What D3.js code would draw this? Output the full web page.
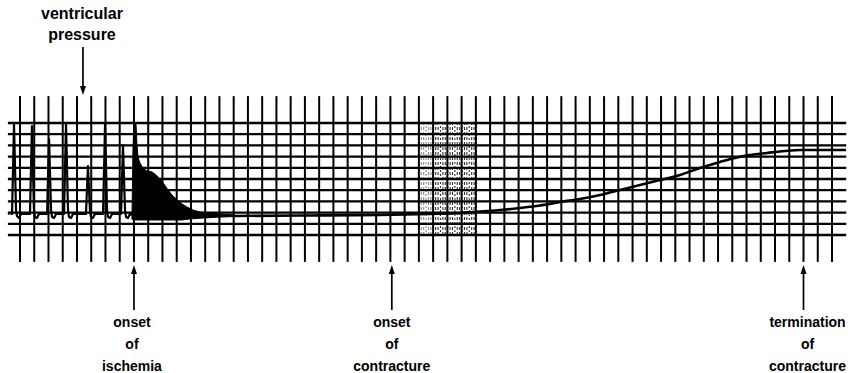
<!DOCTYPE html>
<html>
<head>
<meta charset="utf-8">
<script src="https://cdn.jsdelivr.net/npm/d3@7"></script>
<style>
  body { margin: 0; background: #fff; }
  text { font-family: "Liberation Sans", Arial, Helvetica, sans-serif; font-weight: bold; font-size: 14px; fill: #000; }
</style>
</head>
<body>
<div id="chart"></div>
<script>
// time in chart-paper divisions, pressure in divisions above the lowest grid line
var preT = [-0.84, -0.70, -0.56, -0.42, -0.28, -0.21, -0.07, 0.07, 0.49,
    0.70, 0.84, 0.98, 1.05, 1.19, 1.33, 1.75,
    1.90, 2.04, 2.18, 2.25, 2.39, 2.53, 3.02,
    3.09, 3.23, 3.37, 3.44, 3.58, 3.72, 4.49,
    4.63, 4.77, 4.91, 4.98, 5.12, 5.26, 5.69,
    5.83, 5.97, 6.11, 6.18, 6.32, 6.46, 6.95,
    7.09, 7.23, 7.37, 7.44, 7.58, 7.72, 7.86];
var preV = [1.88, 1.96, 1.88, 9.91, 2.23, 1.70, 1.52, 1.88, 1.88,
    1.88, 9.73, 2.23, 1.61, 1.52, 1.88, 1.88,
    1.88, 8.57, 2.23, 1.61, 1.52, 1.88, 1.88,
    1.88, 9.91, 2.23, 1.61, 1.52, 1.88, 1.88,
    1.88, 6.16, 2.23, 1.61, 1.52, 1.88, 1.88,
    1.88, 9.91, 2.23, 1.61, 1.52, 1.88, 1.88,
    1.88, 8.04, 2.23, 1.61, 1.52, 1.88, 1.79];

var fillT = [7.86, 7.93, 8.00, 8.14, 8.21, 8.28, 8.42, 8.63, 8.91, 9.27, 9.55, 9.83,
    10.11, 10.39, 10.67, 11.02, 11.37, 11.72, 12.14, 12.64, 13.34, 14.04, 15.09];
var fillV = [1.52, 7.59, 10.0, 10.0, 8.04, 6.96, 6.43, 5.98, 5.71, 5.63, 5.36, 5.00,
    4.55, 4.02, 3.57, 3.13, 2.77, 2.50, 2.23, 2.05, 1.96, 1.88, 1.79];
var fillFloor = [1.40, 1.40, 1.34, 1.34, 1.34, 1.34, 1.34, 1.34, 1.34, 1.34, 1.34, 1.34,
    1.34, 1.34, 1.34, 1.34, 1.34, 1.40, 1.45, 1.50, 1.55, 1.60, 1.65];

var postT = [15.09, 19.65, 25.27, 28.78, 30.89, 32.29, 33.69, 35.10, 36.50, 37.91, 39.31, 40.71,
    42.12, 43.52, 44.93, 46.33, 47.73, 49.14, 50.19, 51.24, 52.44, 53.70, 54.75, 57.98];
var postV = [1.70, 1.74, 1.79, 1.88, 1.96, 2.10, 2.23, 2.41, 2.63, 2.95, 3.21, 3.57,
    4.02, 4.46, 4.91, 5.36, 5.98, 6.52, 6.88, 7.14, 7.32, 7.50, 7.59, 7.59];

var markerLabels = [["ventricular", "pressure"], ["onset", "of", "ischemia"],
    ["onset", "of", "contracture"], ["termination", "of", "contracture"]];
var markerT = [4.42, 8.0, 26.1, 55.0];
var markerSide = ["top", "bottom", "bottom", "bottom"];
var labelDx = [-1, -2, 0, 4];

var stippleFrom = 28.0, stippleTo = 32.1;

var width = 848, height = 373;

var svg = d3.select("#chart")
    .append("svg")
    .attr("width", width)
    .attr("height", height);

svg.append("rect").attr("width", width).attr("height", height).attr("fill", "#fff");

var x = d3.scaleLinear()
    .domain([0, 57])
    .range([20, 832]);

var y = d3.scaleLinear()
    .domain([0, 10])
    .range([235, 123]);

// chart paper grid
var grid = svg.append("g").attr("stroke", "#000");

grid.selectAll("hline")
    .data(d3.range(0, 11))
    .enter()
    .append("line")
    .attr("x1", x(-0.85))
    .attr("x2", x(58))
    .attr("y1", function (d) { return y(d) })
    .attr("y2", function (d) { return y(d) })
    .attr("stroke-width", 2.3);

grid.selectAll("vline")
    .data(d3.range(0, 58))
    .enter()
    .append("line")
    .attr("x1", function (d) { return x(d) })
    .attr("x2", function (d) { return x(d) })
    .attr("y1", y(12.4))
    .attr("y2", y(-2.4))
    .attr("stroke-width", 2);

// speckled patch on the paper
var stippleCols = d3.range(x(stippleFrom), x(stippleTo), 2.4);
svg.append("g")
    .selectAll("line")
    .data(stippleCols)
    .enter()
    .append("line")
    .attr("x1", function (d) { return d })
    .attr("x2", function (d) { return d })
    .attr("y1", y(10.1))
    .attr("y2", y(-0.1))
    .attr("stroke", "#000")
    .attr("stroke-width", 1.1)
    .attr("stroke-dasharray", function (d, i) { return i % 3 == 0 ? "2,2" : "3,2" })
    .attr("opacity", function (d) { return d < x(29) ? 0.45 : 0.8 });

// pressure trace
var pre = preT.map(function (t, i) { return [t, preV[i]] });
var fill = fillT.map(function (t, i) { return [t, fillV[i], fillFloor[i]] });
var post = postT.map(function (t, i) { return [t, postV[i]] });

var line = d3.line()
    .x(function (d) { return x(d[0]) })
    .y(function (d) { return y(d[1]) });

svg.append("path")
    .datum(pre)
    .attr("d", line)
    .attr("fill", "none")
    .attr("stroke", "#000")
    .attr("stroke-width", 2.2)
    .attr("stroke-linejoin", "round");

svg.append("path")
    .datum(fill)
    .attr("d", d3.area()
        .x(function (d) { return x(d[0]) })
        .y0(function (d) { return y(d[2]) })
        .y1(function (d) { return y(d[1]) }))
    .attr("fill", "#000")
    .attr("stroke", "#000")
    .attr("stroke-width", 1);

svg.append("path")
    .datum(post)
    .attr("d", line.curve(d3.curveMonotoneX))
    .attr("fill", "none")
    .attr("stroke", "#000")
    .attr("stroke-width", 2.6);

// arrows + labels
var markers = markerT.map(function (t, i) {
    return { t: t, lines: markerLabels[i], side: markerSide[i], dx: labelDx[i] };
});

var ann = svg.append("g")
    .selectAll("g")
    .data(markers)
    .enter()
    .append("g");

ann.append("line")
    .attr("x1", function (d) { return x(d.t) })
    .attr("x2", function (d) { return x(d.t) })
    .attr("y1", function (d) { return d.side == "top" ? 47 : 272 })
    .attr("y2", function (d) { return d.side == "top" ? 88 : 310 })
    .attr("stroke", "#000")
    .attr("stroke-width", 1.7);

ann.append("path")
    .attr("d", function (d) {
        var cx = x(d.t);
        if (d.side == "top") return "M" + (cx - 3) + ",86L" + (cx + 3) + ",86L" + cx + ",95Z";
        return "M" + (cx - 3) + ",274L" + (cx + 3) + ",274L" + cx + ",265Z";
    })
    .attr("fill", "#000");

ann.selectAll("text")
    .data(function (d) {
        return d.lines.map(function (s, j) {
            var base = d.side == "top" ? 19 + j * 21 : 327 + j * 22;
            return { s: s, cx: x(d.t) + d.dx, y: base, top: d.side == "top" };
        });
    })
    .enter()
    .append("text")
    .attr("x", function (d) { return d.cx })
    .attr("y", function (d) { return d.y })
    .attr("text-anchor", "middle")
    .style("font-size", function (d) { return d.top ? "16px" : "14px" })
    .text(function (d) { return d.s });
</script>
</body>
</html>
